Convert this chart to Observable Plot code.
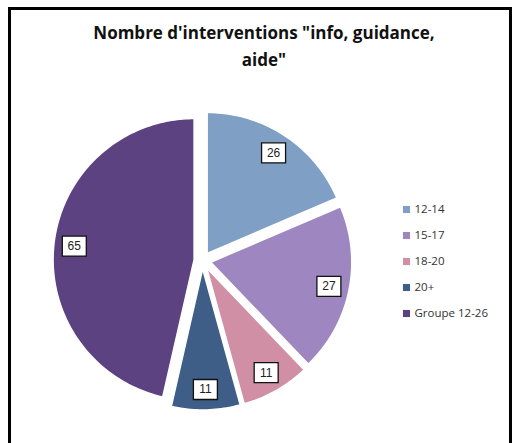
<!DOCTYPE html>
<html><head><meta charset="utf-8">
<script src="https://cdn.jsdelivr.net/npm/d3@7"></script>
<script src="https://cdn.jsdelivr.net/npm/@observablehq/plot@0.6"></script>
<style>
body{margin:0;background:#fff;width:512px;height:443px;overflow:hidden;position:relative;font-family:"Liberation Sans",sans-serif}
#frame{position:absolute;left:8px;top:7px;width:504px;height:460px;border:3px solid #000;box-sizing:border-box}
#title{position:absolute;left:54px;top:19px;width:420px;text-align:center;font-family:"Open Sans",sans-serif;font-weight:bold;font-size:17px;line-height:27px;color:#111}
#pie{position:absolute;left:22px;top:95px}
#legend{position:absolute;left:398px;top:190px}
</style></head>
<body>
<div id="frame"></div>
<div id="title">Nombre d'interventions "info, guidance,<br>aide"</div>
<div id="pie"></div>
<div id="legend"></div>
<script>
const categories = ["12-14", "15-17", "18-20", "20+", "Groupe 12-26"];
const values = [26, 27, 11, 11, 65];
const colors = ["#7f9fc4", "#9e86c1", "#d08fa4", "#3e5e87", "#5d4281"];

const W = 360, H = 330, R = 141;
const explode = 0.06, labelR = 0.855;
const arcs = d3.pie().sort(null).value(d => d.v)(categories.map((c, i) => ({c, v: values[i]})));
const rows = [];
const labels = [];
arcs.forEach(a => {
  const mid = (a.startAngle + a.endAngle) / 2;
  const ox = explode * Math.sin(mid), oy = explode * Math.cos(mid);
  rows.push({cat: a.data.c, x: ox, y: oy});
  const n = Math.max(8, Math.ceil((a.endAngle - a.startAngle) / 0.02));
  for (let k = 0; k <= n; k++) {
    const t = a.startAngle + (a.endAngle - a.startAngle) * k / n;
    rows.push({cat: a.data.c, x: ox + Math.sin(t), y: oy + Math.cos(t)});
  }
  labels.push({cat: a.data.c, v: a.data.v, x: ox + labelR * Math.sin(mid), y: oy + labelR * Math.cos(mid)});
});
const box = {draw(ctx) { ctx.rect(-12, -10, 24, 20); }};

const pie = Plot.plot({
  width: W, height: H, margin: 0,
  x: {domain: [-W / 2 / R, W / 2 / R], axis: null},
  y: {domain: [-H / 2 / R, H / 2 / R], axis: null},
  color: {domain: categories, range: colors},
  style: {background: "transparent", fontFamily: "Liberation Sans, sans-serif"},
  marks: [
    Plot.line(rows, {x: "x", y: "y", z: "cat", fill: "cat", stroke: "white", strokeWidth: 1.5, curve: "linear-closed"}),
    Plot.dot(labels, {x: "x", y: "y", symbol: box, fill: "white", stroke: "#111", strokeWidth: 1.3}),
    Plot.text(labels, {x: "x", y: "y", text: d => String(d.v), fontSize: 12, fill: "#222"})
  ]
});
document.getElementById("pie").append(pie);

const legend = Plot.plot({
  width: 110, height: 140, margin: 0,
  y: {type: "point", domain: categories, range: [18, 124], padding: 0, axis: null},
  color: {domain: categories, range: colors},
  style: {background: "transparent", fontFamily: "Open Sans, sans-serif"},
  marks: [
    Plot.dot(categories, {y: d => d, fill: d => d, symbol: "square", r: 4, frameAnchor: "left", dx: 8}),
    Plot.text(categories, {y: d => d, text: d => d, frameAnchor: "left", dx: 16, textAnchor: "start", fontSize: 11.5, fill: "#333"})
  ]
});
document.getElementById("legend").append(legend);
</script>
</body></html>
